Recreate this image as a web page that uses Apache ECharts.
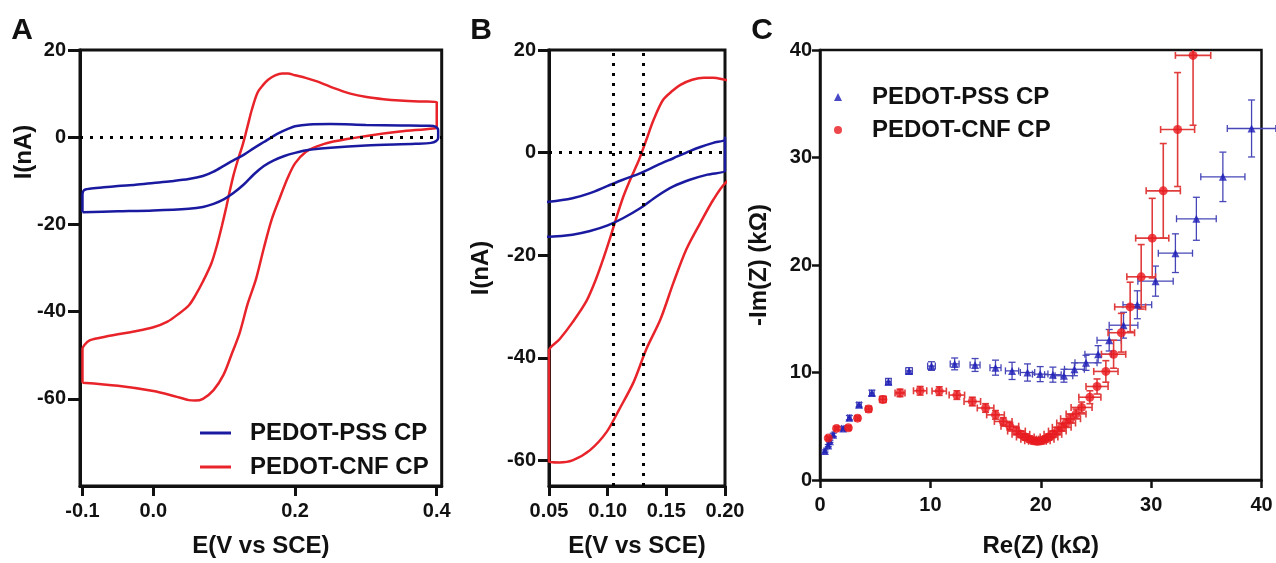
<!DOCTYPE html>
<html><head><meta charset="utf-8">
<script src="https://cdn.jsdelivr.net/npm/echarts@6/dist/echarts.min.js"></script>
<style>html,body{margin:0;padding:0;background:#fff;}#c{width:1276px;height:563px;}</style>
</head><body><div id="c"></div>
<script>
// ---- Panel A/B: cyclic voltammograms (E in V vs SCE, I in nA), loop order ----
const pssE = [-0.1,-0.1,-0.099,-0.096,-0.09,-0.07,-0.05,-0.025,0,0.025,0.05,0.07,0.085,0.1,0.113,0.128,0.142,0.156,0.17,0.179,0.19,0.2,0.22,0.25,0.3,0.35,0.39,0.398,0.402,0.402,0.399,0.392,0.37,0.3,0.25,0.22,0.2,0.185,0.17,0.156,0.142,0.128,0.113,0.1,0.085,0.07,0.05,0,-0.05,-0.1];
const pssI = [-17.2,-13.2,-12.4,-12.0,-11.8,-11.5,-11.2,-10.9,-10.5,-10.1,-9.6,-8.9,-7.9,-6.5,-5.3,-4.0,-2.5,-1.1,0.3,1.1,1.9,2.5,2.9,3.0,2.8,2.7,2.6,2.4,1.6,-0.2,-0.9,-1.3,-1.5,-1.9,-2.4,-2.9,-3.6,-4.3,-5.3,-6.6,-8.5,-10.8,-12.8,-14.2,-15.3,-16.0,-16.4,-16.8,-17.0,-17.2];
const cnfE = [-0.1,-0.1,-0.097,-0.09,-0.075,-0.05,-0.025,0,0.02,0.035,0.05,0.059,0.07,0.082,0.09,0.097,0.103,0.107,0.113,0.119,0.126,0.13,0.1333,0.139,0.147,0.155,0.162,0.172,0.182,0.19,0.2,0.215,0.231,0.254,0.278,0.301,0.325,0.348,0.375,0.4,0.4,0.395,0.348,0.301,0.254,0.231,0.215,0.2,0.19,0.179,0.167,0.156,0.145,0.133,0.122,0.11,0.099,0.085,0.07,0.059,0.05,0.03,0,-0.05,-0.1];
const cnfI = [-56.3,-48.6,-47.6,-46.6,-46.0,-45.2,-44.5,-43.6,-42.3,-40.6,-38.6,-36.4,-33.1,-28.9,-24.7,-20.2,-16.0,-13.0,-8.8,-5.4,-1.8,0.6,2.7,6.3,10.2,12.0,13.2,14.2,14.6,14.6,14.2,13.6,12.8,11.3,10.0,9.2,8.7,8.4,8.2,8.1,2.3,2.0,1.3,0.3,-1.0,-2.1,-3.4,-6.0,-9.2,-13.7,-18.9,-25.4,-32.5,-38.3,-44.8,-50.0,-54.5,-58.0,-60.0,-60.4,-60.3,-59.4,-58.2,-57.0,-56.3];
const eTicksA = [-0.1, 0, 0.2, 0.4];
const iTicksA = [-60, -40, -20, 0, 20];
const eTicksB = [0.05, 0.1, 0.15, 0.2];
const iTicksB = [-60, -40, -20, 0, 20];
const eMarkersB = [0.105, 0.13];
// ---- Panel C: Nyquist plot (kOhm) with x/y error bars ----
const pssRe = [0.45,0.75,0.9,1.2,2.1,2.66,3.54,4.7,6.2,8.07,10.1,12.2,14.05,15.9,17.4,18.8,19.95,21.1,22.1,23.05,24.1,25.2,26.2,27.5,28.75,30.4,32.2,34.1,36.5,39.1];
const pssIm = [2.7,3.2,3.6,4.2,4.8,5.8,7.0,8.1,9.15,10.15,10.6,10.8,10.7,10.45,10.15,10.0,9.85,9.8,9.7,10.3,10.9,11.7,13.0,14.4,16.3,18.5,21.1,24.3,28.2,32.7];
const pssReErr = [0.1,0.1,0.1,0.1,0.15,0.15,0.2,0.2,0.25,0.3,0.35,0.4,0.45,0.5,0.6,0.65,0.7,0.75,0.8,0.9,1.0,1.2,1.1,1.3,1.3,1.6,1.55,1.8,2.0,2.2];
const pssImErr = [0.1,0.1,0.1,0.15,0.15,0.2,0.2,0.25,0.3,0.3,0.4,0.55,0.6,0.7,0.8,0.8,0.7,0.7,0.6,0.6,0.7,0.8,1.0,1.2,1.3,1.4,1.8,2.0,2.3,2.65];
const cnfRe = [0.75,1.5,2.57,3.4,4.4,5.7,7.25,9.07,10.8,12.4,13.8,15.0,15.9,16.6,17.2,17.8,18.2,18.6,19.0,19.35,19.7,20.05,20.4,20.75,21.1,21.5,21.9,22.3,22.7,23.2,23.7,24.45,25.1,25.9,26.6,27.3,28.1,29.1,30.1,31.1,32.4,33.8];
const cnfIm = [3.9,4.8,4.85,5.75,6.6,7.5,8.1,8.3,8.27,7.9,7.3,6.7,6.06,5.45,5.0,4.55,4.25,4.0,3.8,3.65,3.6,3.65,3.8,4.0,4.25,4.55,4.9,5.3,5.7,6.15,6.75,7.7,8.7,10.1,11.7,13.7,16.1,18.9,22.5,26.9,32.6,39.5];
const cnfReErr = [0.15,0.15,0.2,0.2,0.25,0.3,0.45,0.6,0.65,0.7,0.75,0.75,0.8,0.8,0.8,0.8,0.8,0.8,0.8,0.8,0.8,0.8,0.8,0.8,0.8,0.8,0.85,0.85,0.9,0.9,0.95,1.0,1.0,1.1,1.1,1.2,1.4,1.3,1.5,1.55,1.54,1.6];
const cnfImErr = [0.15,0.15,0.2,0.2,0.25,0.3,0.35,0.4,0.4,0.4,0.4,0.4,0.4,0.35,0.35,0.35,0.3,0.3,0.3,0.3,0.3,0.3,0.3,0.3,0.3,0.35,0.35,0.4,0.4,0.45,0.5,0.6,0.7,1.0,1.3,1.8,2.3,3.0,3.7,4.4,5.3,6.5];
const zTicks = [0, 10, 20, 30, 40];
const seriesLabels = {pssA:'PEDOT-PSS CP', cnfA:'PEDOT-CNF CP', pssC:'PEDOT-PSS CP', cnfC:'PEDOT-CNF CP'};

const F = "'Liberation Sans', Arial, sans-serif";
const INK = '#111';
const BLUE = '#1a1aa0', RED = '#e8242a';
const BLUE_M = '#1c1cb8', RED_M = '#e8191e';

const zip = (a, b) => a.map((v, i) => [v, b[i]]);
const pssCV = zip(pssE, pssI), cnfCV = zip(cnfE, cnfI);
const bMin = eTicksB[0], bMax = eTicksB[eTicksB.length - 1];
const cnfCVB = cnfE.map((e, i) => [Math.max(bMin, e), cnfI[i]]);
const pssCVB = pssE.map((e, i) => [Math.min(bMax, e), pssI[i]]);
const pssErr = pssRe.map((v, i) => [v, pssIm[i], pssReErr[i], pssImErr[i]]);
const cnfErr = cnfRe.map((v, i) => [v, cnfIm[i], cnfReErr[i], cnfImErr[i]]);

const lbl = (extra) => Object.assign({fontSize: 20, fontWeight: 'bold', fontFamily: F, color: INK}, extra);
const nameStyle = {fontSize: 24, fontWeight: 'bold', fontFamily: F, color: INK};

function xAx(grid, min, max, ticks, fmt, name, gap, lw, tl, interval) {
  const o = {gridIndex: grid, type: 'value', min: min, max: max,
    axisLine: {show: true, onZero: false, lineStyle: {color: INK, width: lw}},
    axisTick: {show: true, length: tl, lineStyle: {color: INK, width: lw}},
    axisLabel: lbl({margin: 15, formatter: fmt}),
    splitLine: {show: false},
    name: name, nameLocation: 'middle', nameGap: gap, nameTextStyle: nameStyle};
  if (interval) o.interval = interval; else { o.axisTick.customValues = ticks; o.axisLabel.customValues = ticks; }
  return o;
}
function yAx(grid, min, max, ticks, name, gap, lw, tl, margin, interval) {
  const o = {gridIndex: grid, type: 'value', min: min, max: max,
    axisLine: {show: true, onZero: false, lineStyle: {color: INK, width: lw}},
    axisTick: {show: true, length: tl, lineStyle: {color: INK, width: lw}},
    axisLabel: lbl({margin: margin}),
    splitLine: {show: false},
    name: name, nameLocation: 'middle', nameGap: gap, nameTextStyle: nameStyle};
  if (interval) o.interval = interval; else { o.axisTick.customValues = ticks; o.axisLabel.customValues = ticks; }
  return o;
}

function errRender(color, lw, cap) {
  return function (params, api) {
    const x = api.value(0), y = api.value(1), ex = api.value(2), ey = api.value(3);
    const c = api.coord([x, y]);
    const l = api.coord([x - ex, y])[0], r = api.coord([x + ex, y])[0];
    const t = api.coord([x, y + ey])[1], b = api.coord([x, y - ey])[1];
    const st = {stroke: color, lineWidth: lw, fill: null};
    const ln = (x1, y1, x2, y2) => ({type: 'line', shape: {x1, y1, x2, y2}, style: st});
    return {type: 'group', children: [
      ln(l, c[1], r, c[1]), ln(l, c[1] - cap, l, c[1] + cap), ln(r, c[1] - cap, r, c[1] + cap),
      ln(c[0], t, c[0], b), ln(c[0] - cap, t, c[0] + cap, t), ln(c[0] - cap, b, c[0] + cap, b)
    ]};
  };
}

const dotted = {color: '#000', width: 3, type: [3, 7], cap: 'butt'};
const legendText = {fontSize: 24, fontWeight: 'bold', fontFamily: F, color: INK, lineHeight: 26};

const option = {
  animation: false,
  backgroundColor: '#fff',
  grid: [
    {left: 80, top: 50, width: 361.7, height: 439.3, show: true, borderColor: INK, borderWidth: 3},
    {left: 549, top: 50, width: 176, height: 438.3, show: true, borderColor: INK, borderWidth: 3},
    {left: 820, top: 50, width: 441.5, height: 440, show: true, borderColor: INK, borderWidth: 2.5}
  ],
  xAxis: [
    xAx(0, -0.1035, 0.407, eTicksA, v => v.toFixed(1), 'E(V vs SCE)', 48, 3, 10),
    xAx(1, bMin, bMax, eTicksB, v => v.toFixed(2), 'E(V vs SCE)', 48, 3, 10),
    xAx(2, zTicks[0], zTicks[zTicks.length - 1], zTicks, v => String(v), 'Re(Z) (k\u03A9)', 54, 2.5, 8, 10)
  ],
  yAxis: [
    yAx(0, -80, 20, iTicksA, '', 0, 3, 12, 14),
    yAx(1, -65, 20, iTicksB, 'I(nA)', 56, 3, 11, 13),
    yAx(2, zTicks[0], zTicks[zTicks.length - 1], zTicks, '-Im(Z) (k\u03A9)', 49, 2.5, 8, 8, 10)
  ],
  legend: [
    {data: [{name: 'pssA', icon: 'rect'}, {name: 'cnfA', icon: 'rect'}], orient: 'vertical', left: 200, top: 420,
     padding: 0, itemWidth: 31, itemHeight: 3, itemGap: 8, selectedMode: false, formatter: n => seriesLabels[n],
     textStyle: Object.assign({padding: [0, 0, 0, 14]}, legendText)},
    {data: ['pssC', 'cnfC'], orient: 'vertical', left: 834, top: 84, padding: 0, itemWidth: 8, itemHeight: 8, itemGap: 7,
     selectedMode: false, formatter: n => seriesLabels[n],
     textStyle: Object.assign({padding: [0, 0, 0, 25]}, legendText)}
  ],
  graphic: [
    {type: 'text', x: 22, y: 31, style: {text: 'A', fill: INK, font: "bold 30px 'Liberation Sans', Arial", align: 'center', verticalAlign: 'middle'}},
    {type: 'text', x: 481, y: 31, style: {text: 'B', fill: INK, font: "bold 30px 'Liberation Sans', Arial", align: 'center', verticalAlign: 'middle'}},
    {type: 'text', x: 762, y: 31, style: {text: 'C', fill: INK, font: "bold 30px 'Liberation Sans', Arial", align: 'center', verticalAlign: 'middle'}},
    {type: 'text', x: 24, y: 152, rotation: Math.PI / 2, style: {text: 'I(nA)', fill: INK, font: "bold 24px 'Liberation Sans', Arial", align: 'center', verticalAlign: 'middle'}}
  ],
  series: [
    {name: 'pssA', type: 'line', xAxisIndex: 0, yAxisIndex: 0, data: pssCV, symbol: 'none', color: BLUE,
     smooth: 0.3, lineStyle: {color: BLUE, width: 2.5}, z: 3},
    {name: 'cnfA', type: 'line', xAxisIndex: 0, yAxisIndex: 0, data: cnfCV, symbol: 'none', color: RED,
     smooth: 0.3, lineStyle: {color: RED, width: 2.5}, z: 2,
     markLine: {silent: true, precision: 4, symbol: ['none', 'none'], label: {show: false}, lineStyle: dotted, data: [{yAxis: 0}]}},
    {name: 'cnfB', type: 'line', xAxisIndex: 1, yAxisIndex: 1, data: cnfCVB, symbol: 'none', color: RED,
     smooth: 0.3, lineStyle: {color: RED, width: 2.5}, z: 2,
     markLine: {silent: true, precision: 4, symbol: ['none', 'none'], label: {show: false}, lineStyle: dotted,
       data: [{yAxis: 0}].concat(eMarkersB.map(v => ({xAxis: v})))}},
    {name: 'pssB', type: 'line', xAxisIndex: 1, yAxisIndex: 1, data: pssCVB, symbol: 'none', color: BLUE,
     smooth: 0.3, lineStyle: {color: BLUE, width: 2.5}, z: 3},
    {name: 'pssErr', type: 'custom', xAxisIndex: 2, yAxisIndex: 2, data: pssErr, clip: false,
     encode: {x: 0, y: 1}, renderItem: errRender('#4646b8', 1.3, 3.5), z: 2},
    {name: 'cnfErr', type: 'custom', xAxisIndex: 2, yAxisIndex: 2, data: cnfErr, clip: true,
     encode: {x: 0, y: 1}, renderItem: errRender('#e03c3c', 1.6, 3.5), z: 2},
    {name: 'pssC', type: 'scatter', xAxisIndex: 2, yAxisIndex: 2, data: zip(pssRe, pssIm), symbol: 'triangle',
     symbolSize: 8, color: BLUE_M, itemStyle: {color: BLUE_M}, z: 4},
    {name: 'cnfC', type: 'scatter', xAxisIndex: 2, yAxisIndex: 2, data: zip(cnfRe, cnfIm), symbol: 'circle',
     symbolSize: 9, color: RED_M, itemStyle: {color: RED_M}, z: 4}
  ]
};
const chart = echarts.init(document.getElementById('c'), null, {renderer: 'canvas'});
chart.setOption(option);
</script></body></html>
